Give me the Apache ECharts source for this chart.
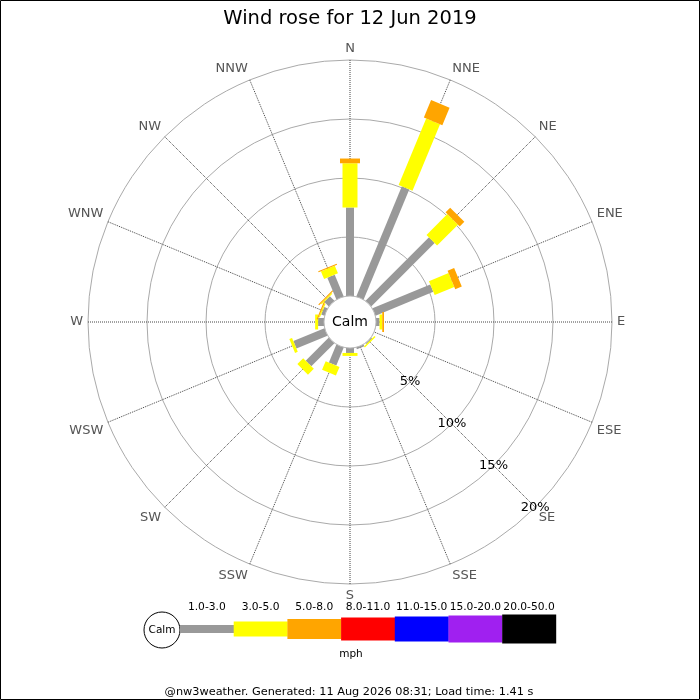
<!DOCTYPE html>
<html>
<head>
<meta charset="utf-8">
<script src="https://cdn.jsdelivr.net/npm/echarts@6/dist/echarts.min.js"></script>
<style>
html,body{margin:0;padding:0;background:#fff;}
#chart{width:700px;height:700px;}
</style>
</head>
<body>
<div id="chart"></div>
<script>
// ---------- data ----------
const chartTitle = 'Wind rose for 12 Jun 2019';
const directions = ['N','NNE','NE','ENE','E','ESE','SE','SSE','S','SSW','SW','WSW','W','WNW','NW','NNW'];
const speedBands = ['1.0-3.0','3.0-5.0','5.0-8.0','8.0-11.0','11.0-15.0','15.0-20.0','20.0-50.0'];
// percentage of time per direction, one array per speed band (mph)
const band1to3   = [7.5, 10.1, 7.6, 5.3, 0.3, 0, 0.1, 0.15, 0.42, 1.65, 2.77, 2.85, 0.5, 0.3, 0.55, 2.0];
const band3to5   = [3.75, 6.1, 2.5, 1.8, 0.23, 0, 0.12, 0, 0.25, 0.8, 0.7, 0.25, 0.25, 0.1, 0.1, 0.7];
const band5to8   = [0.4, 1.6, 0.55, 0.6, 0.15, 0, 0, 0, 0, 0, 0, 0, 0, 0.1, 0.1, 0.1];
const band8to11  = [0, 0, 0, 0, 0, 0, 0, 0, 0, 0, 0, 0, 0, 0, 0, 0];
const band11to15 = [0, 0, 0, 0, 0, 0, 0, 0, 0, 0, 0, 0, 0, 0, 0, 0];
const band15to20 = [0, 0, 0, 0, 0, 0, 0, 0, 0, 0, 0, 0, 0, 0, 0, 0];
const band20to50 = [0, 0, 0, 0, 0, 0, 0, 0, 0, 0, 0, 0, 0, 0, 0, 0];
const radiusTicks = [5, 10, 15, 20];
const radiusTickLabels = ['5%', '10%', '15%', '20%'];
const calmLabel = 'Calm';
const unitLabel = 'mph';
const footerText = '@nw3weather. Generated: 11 Aug 2026 08:31; Load time: 1.41 s';

// ---------- styles ----------
const FONT = 'DejaVu Sans';
const bandColors = ['#999999', '#ffff00', '#ffa500', '#ff0000', '#0000ff', '#a020f0', '#000000'];
const bandWidths = [8, 15, 20, 23, 25, 27, 29];
const radiusLabelAngle = 135;
const dirStep = 360 / directions.length;

const bands = [band1to3, band3to5, band5to8, band8to11, band11to15, band15to20, band20to50];
const barData = [];
directions.forEach(function (d, i) {
  let acc = 0;
  bands.forEach(function (arr, b) {
    const v = arr[i];
    if (v > 0) barData.push([i * dirStep, b, acc, acc + v]);
    acc += v;
  });
});

function renderBar(params, api) {
  const ang = api.value(0), b = api.value(1), s = api.value(2), e = api.value(3);
  const cs = params.coordSys;
  const p0 = api.coord([s, ang]);
  const p1 = api.coord([e, ang]);
  const pf = api.coord([radiusTicks[radiusTicks.length - 1], ang]);
  let ux = pf[0] - cs.cx, uy = pf[1] - cs.cy;
  const L = Math.hypot(ux, uy); ux /= L; uy /= L;
  const hw = bandWidths[b] / 2;
  const nx = -uy * hw, ny = ux * hw;
  return {
    type: 'polygon',
    shape: { points: [[p0[0] + nx, p0[1] + ny], [p1[0] + nx, p1[1] + ny], [p1[0] - nx, p1[1] - ny], [p0[0] - nx, p0[1] - ny]] },
    style: { fill: bandColors[b] }
  };
}

function renderCalm(params, api) {
  const cs = params.coordSys;
  return {
    type: 'group',
    children: [
      { type: 'circle', shape: { cx: cs.cx, cy: cs.cy, r: cs.r0 }, style: { fill: '#fff', stroke: '#bbb', lineWidth: 1 } },
      { type: 'text', style: { x: cs.cx, y: cs.cy, text: calmLabel, fill: '#000', font: '14px "' + FONT + '"', align: 'center', verticalAlign: 'middle' } }
    ]
  };
}

function renderRadiusLabel(params, api) {
  const p = api.coord([api.value(0), api.value(1)]);
  return {
    type: 'text',
    style: { x: p[0], y: p[1], text: radiusTickLabels[params.dataIndex], fill: '#000', font: '13px "' + FONT + '"', align: 'center', verticalAlign: 'middle' }
  };
}

// legend graphics
const legendGraphics = [];
const legX0 = 180, legW = 53.7, legCY = 629;
legendGraphics.push({ type: 'circle', shape: { cx: 162, cy: 630, r: 18 }, style: { fill: '#fff', stroke: '#000', lineWidth: 1 } });
legendGraphics.push({ type: 'text', style: { x: 162, y: 630, text: calmLabel, fill: '#000', font: '10.5px "' + FONT + '"', align: 'center', verticalAlign: 'middle' } });
speedBands.forEach(function (lab, i) {
  const h = bandWidths[i];
  legendGraphics.push({ type: 'rect', shape: { x: legX0 + i * legW, y: legCY - h / 2, width: legW + 0.3, height: h }, style: { fill: bandColors[i] } });
  legendGraphics.push({ type: 'text', style: { x: legX0 + i * legW + legW / 2, y: 607, text: lab, fill: '#000', font: '10.7px "' + FONT + '"', align: 'center', verticalAlign: 'middle' } });
});
legendGraphics.push({ type: 'text', style: { x: 351, y: 654, text: unitLabel, fill: '#000', font: '10.5px "' + FONT + '"', align: 'center', verticalAlign: 'middle' } });
legendGraphics.push({ type: 'text', style: { x: 349, y: 692, text: footerText, fill: '#000', font: '11.3px "' + FONT + '"', align: 'center', verticalAlign: 'middle' } });
legendGraphics.push({ type: 'rect', shape: { x: 0.5, y: 0.5, width: 699, height: 699 }, style: { fill: 'none', stroke: '#000', lineWidth: 1 }, z: 100 });

const chart = echarts.init(document.getElementById('chart'), null, { renderer: 'canvas' });
chart.setOption({
  backgroundColor: '#fff',
  animation: false,
  title: {
    text: chartTitle, left: 'center', top: 4,
    textStyle: { fontFamily: FONT, fontSize: 19.5, fontWeight: 'normal', color: '#000' }
  },
  polar: { center: [350, 322], radius: [26, 262] },
  angleAxis: {
    type: 'value', min: 0, max: 360, interval: dirStep, startAngle: 90, clockwise: true,
    axisLine: { show: false }, axisTick: { show: false },
    axisLabel: {
      margin: 5, color: '#555', fontSize: 13, fontFamily: FONT,
      formatter: function (v) { return directions[Math.round(v / dirStep)] || ''; }
    },
    splitLine: { show: true, lineStyle: { color: '#444', width: 1, type: 'dotted' } }
  },
  radiusAxis: {
    type: 'value', min: 0, max: radiusTicks[radiusTicks.length - 1], interval: radiusTicks[0],
    axisLine: { show: false }, axisTick: { show: false }, axisLabel: { show: false },
    splitLine: { show: true, lineStyle: { color: '#aaa', width: 1 } }
  },
  graphic: legendGraphics,
  series: [
    { type: 'custom', coordinateSystem: 'polar', renderItem: renderBar, data: barData, encode: { angle: 0, radius: [2, 3] }, z: 2, silent: true },
    { type: 'custom', coordinateSystem: 'polar', renderItem: renderCalm, data: [[0, 0]], encode: { radius: 0, angle: 1 }, z: 5, silent: true },
    { type: 'custom', coordinateSystem: 'polar', renderItem: renderRadiusLabel, data: radiusTicks.map(function (v) { return [v, radiusLabelAngle]; }), encode: { radius: 0, angle: 1 }, z: 6, silent: true }
  ]
});
</script>
</body>
</html>
